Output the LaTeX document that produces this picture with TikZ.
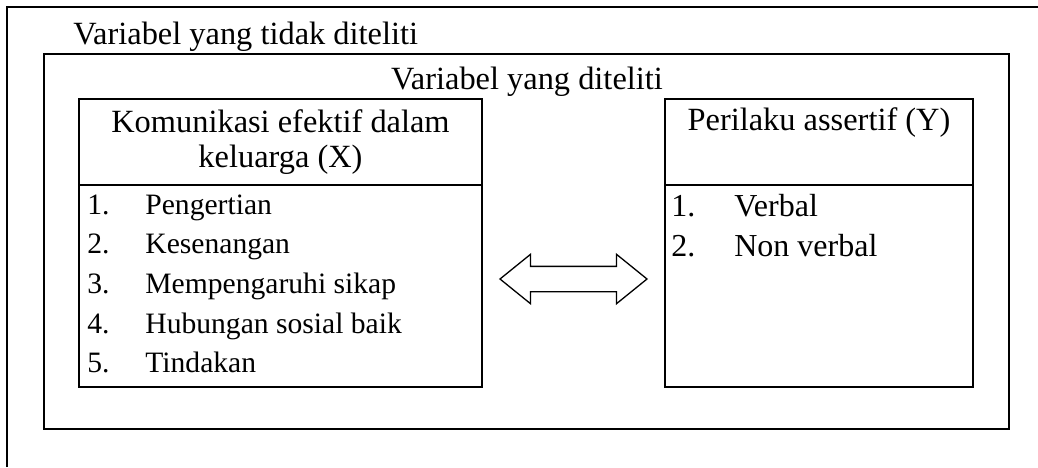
\documentclass[tikz,border=0pt]{standalone}
\usepackage{fontspec}
\setmainfont{Liberation Serif}
\usetikzlibrary{shapes,arrows,positioning}

\begin{document}
\begin{tikzpicture}
				[
					x=0.5pt, y=-0.5pt,
					font=\fontsize{16.2}{17.5}\selectfont,
					framebox/.style={rectangle, draw=black, line width=1pt, outer sep=0pt, inner sep=0pt, anchor=north west},
					headbox/.style={rectangle, draw=black, line width=1pt, outer sep=0pt, minimum height=43pt, align=center},
					listbox/.style={rectangle, draw=black, line width=1pt, outer sep=0pt, minimum height=101pt},
					itemnode/.style={anchor=base west, inner sep=0pt, font=\fontsize{14.8}{17.5}\selectfont},
					bothways/.style={double arrow, draw=black, line width=0.65pt, double arrow tip angle=78, double arrow head extend=6pt, inner xsep=0pt, inner ysep=6pt, minimum height=73.5pt},
				]
				\useasboundingbox (0,0) rectangle (1038,467);

				\draw[line width=1pt] (7,467) -- (7,7) -- (1038,7);
				\node [anchor=base west, inner sep=0pt] (luar) at (73,44) {Variabel yang tidak diteliti};

				\node [framebox, minimum width=482.5pt, minimum height=187.5pt] (diteliti) at (44,54) {};
				\node [anchor=base, inner sep=0pt] (dalam) at (527,89) {Variabel yang diteliti};

				\node [headbox, minimum width=201.5pt, anchor=north west] (kxhead) at (79,99) {Komunikasi efektif dalam\\ keluarga (X)};
				\node [listbox, minimum width=201.5pt] (kxlist) [below=0pt of kxhead] {};
				\node [headbox, minimum width=154pt, anchor=north west] (pyhead) at (665,99) {Perilaku assertif (Y)\\ \strut};
				\node [listbox, minimum width=154pt] (pylist) [below=0pt of pyhead] {};

				\node [itemnode] (kx1) at (87,214) {\makebox[29pt][l]{1.}Pengertian};
				\node [itemnode] (kx2) at (87,253) {\makebox[29pt][l]{2.}Kesenangan};
				\node [itemnode] (kx3) at (87,293) {\makebox[29pt][l]{3.}Mempengaruhi sikap};
				\node [itemnode] (kx4) at (87,333) {\makebox[29pt][l]{4.}Hubungan sosial baik};
				\node [itemnode] (kx5) at (87,372) {\makebox[29pt][l]{5.}Tindakan};

				\node [itemnode, font=\fontsize{16}{17.5}\selectfont] (py1) at (671,216) {\makebox[31.5pt][l]{1.}Verbal};
				\node [itemnode, font=\fontsize{16}{17.5}\selectfont] (py2) at (671,256) {\makebox[31.5pt][l]{2.}Non verbal};

				\node [bothways] (panah) at (573.5,279) {};

			\end{tikzpicture}
\end{document}
